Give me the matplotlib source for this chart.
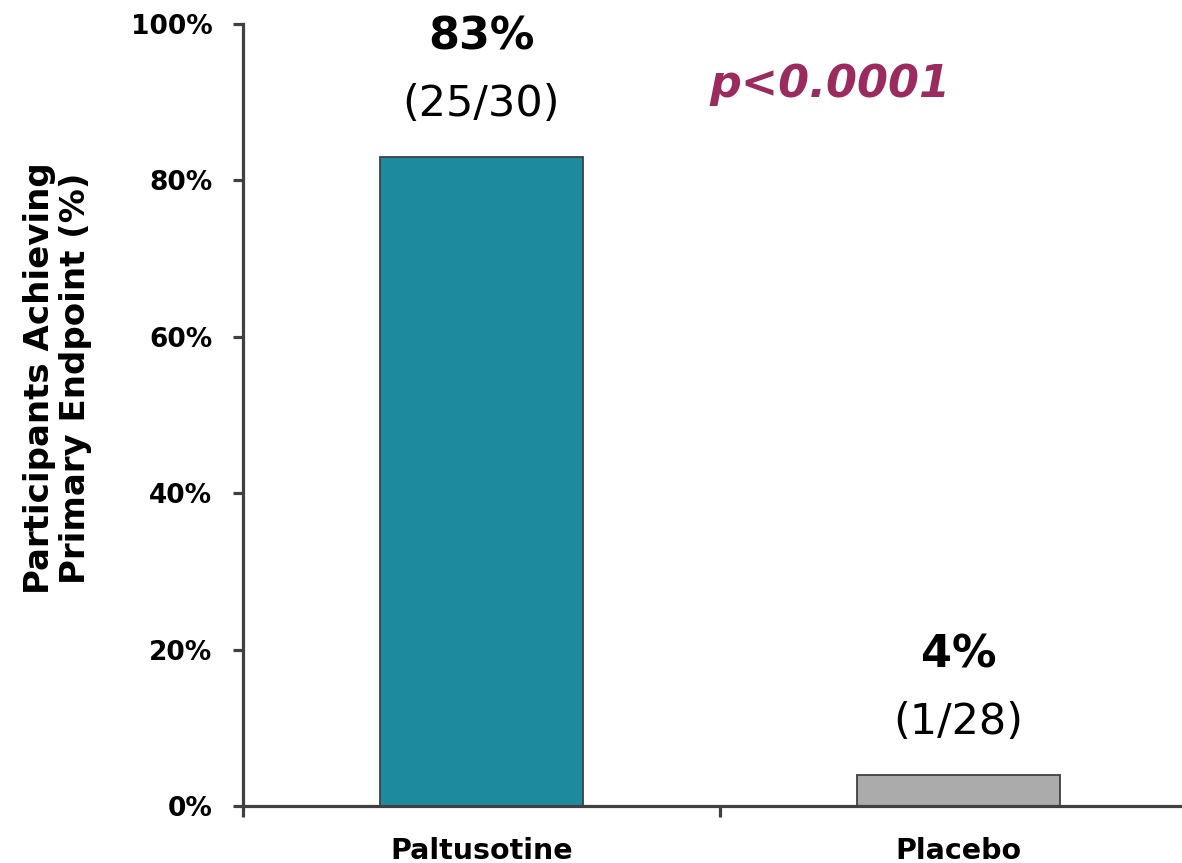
import matplotlib
matplotlib.use('Agg')
import matplotlib.pyplot as plt
import numpy as np

TEAL = '#1d8a9e'
GRAY = '#ababab'
DARK = '#404040'
PLUM = '#9b2a5e'

groups = ['Paltusotine', 'Placebo']
pct = [83, 4]
counts = ['(25/30)', '(1/28)']
yticks = [0, 20, 40, 60, 80, 100]
p_text = 'p<0.0001'

plt.rcParams['font.family'] = ['DejaVu Sans']

fig = plt.figure(figsize=(11.82, 8.63), dpi=100)
ax = fig.add_axes([243/1182, 57/863, 954/1182, 782/863])
ax.set_clip_on(False)

x = np.arange(len(groups)) + 0.5
ax.bar(x, pct, width=0.425, color=[TEAL, GRAY], edgecolor=DARK, linewidth=1.3, zorder=2)

ax.set_xlim(0, 2)
ax.set_ylim(0, 100)

# spines
for s in ['top', 'right']:
    ax.spines[s].set_visible(False)
for s in ['left', 'bottom']:
    ax.spines[s].set_color(DARK)
    ax.spines[s].set_linewidth(2.3)
    ax.spines[s].set_zorder(3)

# y axis
ax.set_yticks(yticks)
ax.set_yticklabels([f'{v}%' for v in yticks], fontsize=19, fontweight='bold')
ax.tick_params(axis='y', length=7, width=2.3, color=DARK, pad=15)
ax.set_ylabel('Participants Achieving\nPrimary Endpoint (%)', fontsize=24.5,
              fontweight='bold', linespacing=1.12)
ax.yaxis.set_label_coords(-0.158, 0.547)

# x axis: boundary ticks major, labels on minor
ax.set_xticks([0, 1, 2])
ax.set_xticklabels([])
ax.tick_params(axis='x', which='major', length=8, width=2.3, color=DARK)
ax.set_xticks(x, minor=True)
ax.set_xticklabels(groups, minor=True, fontsize=20.5, fontweight='bold')
ax.tick_params(axis='x', which='minor', length=0, pad=22)

# bar annotations
for xi, v, c in zip(x, pct, counts):
    ax.annotate(f'{v}%', (xi, v), xytext=(0, 86), textcoords='offset points',
                ha='center', va='center', fontsize=32, fontweight='bold')
    ax.annotate(c, (xi, v), xytext=(0, 38), textcoords='offset points',
                ha='center', va='center', fontsize=31)

ax.text(1.23, 92.3, p_text, ha='center', va='center', fontsize=32,
        fontweight='bold', style='italic', color=PLUM)

fig.savefig('out.png', dpi=100)
